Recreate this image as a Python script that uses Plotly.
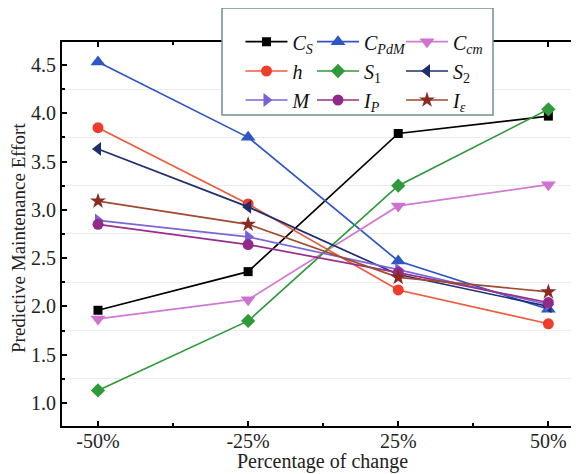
import plotly.graph_objects as go

categories = ["-50%", "-25%", "25%", "50%"]
C_S   = [1.96, 2.36, 3.79, 3.97]
C_PdM = [4.53, 3.75, 2.47, 1.97]
C_cm  = [1.87, 2.07, 3.04, 3.26]
h     = [3.85, 3.06, 2.17, 1.82]
S_1   = [1.13, 1.85, 3.25, 4.04]
S_2   = [3.63, 3.03, 2.33, 2.00]
M     = [2.89, 2.72, 2.38, 2.02]
I_P   = [2.85, 2.64, 2.35, 2.04]
I_eps = [3.09, 2.85, 2.30, 2.15]
y_ticks = [1.0, 1.5, 2.0, 2.5, 3.0, 3.5, 4.0, 4.5]
y_minor = [0.75, 1.25, 1.75, 2.25, 2.75, 3.25, 3.75, 4.25]

series = [
    ("<i>C</i><sub><i>S</i></sub>", C_S, "#000000", "#000000", "square", 9),
    ("<i>C</i><sub><i>PdM</i></sub>", C_PdM, "#2f56c4", "#2f56c4", "triangle-up", 13),
    ("<i>C</i><sub><i>cm</i></sub>", C_cm, "#d27ad2", "#d070d0", "triangle-down", 13),
    ("<i>h</i>", h, "#ee5a3c", "#f03c2c", "circle", 11),
    ("<i>S</i><sub>1</sub>", S_1, "#2f9a3a", "#2f9a3a", "diamond", 11),
    ("<i>S</i><sub>2</sub>", S_2, "#1e2e6e", "#1e2e6e", "triangle-left", 12),
    ("<i>M</i>", M, "#7a66d6", "#7a5fd8", "triangle-right", 12),
    ("<i>I</i><sub><i>P</i></sub>", I_P, "#9a2e8e", "#922a8a", "circle", 11),
    ("<i>I</i><sub><i>ε</i></sub>", I_eps, "#a04a30", "#8a2a22", "star", 12),
]

OFF = 8  # page body margin
W, H = 571, 466
L, R, T, B = 54, 0, 34, 48
pw, ph = W - L - R, H - T - B

def px2paper(sx, sy):
    # screen pixel -> paper coords
    x = sx - OFF
    y = sy - OFF
    return (x - L) / pw, (H - B - y) / ph

fig = go.Figure()
xs = list(range(len(categories)))
leg_cols = [240.5, 312, 401]
leg_rows = [41.7, 71, 100]
layout_legends = {}
for i, (name, vals, lc, mc, sym, sz) in enumerate(series):
    lname = "legend" if i == 0 else f"legend{i+1}"
    fig.add_trace(go.Scatter(
        x=xs, y=vals, mode="lines+markers", name=name,
        line=dict(color=lc, width=1.7),
        marker=dict(color=mc, symbol=sym, size=sz, line=dict(width=0)),
        legend=lname,
    ))
    r, c = divmod(i, 3)
    lx, ly = px2paper(leg_cols[c], leg_rows[r])
    layout_legends[lname] = dict(
        x=lx, y=ly, xanchor="left", yanchor="middle",
        bgcolor="rgba(0,0,0,0)", borderwidth=0, itemwidth=42,
        font=dict(family="Liberation Serif", size=20, color="#111"),
    )

fig.update_layout(
    width=W, height=H,
    margin=dict(l=L, r=R, t=T, b=B, autoexpand=False),
    paper_bgcolor="white", plot_bgcolor="white",
    font=dict(family="Liberation Serif", size=20, color="#222"),
    xaxis=dict(
        range=[-0.2397, 3.204], tickmode="array", tickvals=xs, ticktext=categories,
        showline=True, linecolor="black", linewidth=2, mirror="ticks",
        ticks="inside", ticklen=5, tickwidth=1.5, tickcolor="black",
        showgrid=False, zeroline=False, automargin=False, ticklabelstandoff=-4,
        minor=dict(tickmode="array", tickvals=[0.5, 1.5, 2.5], ticks="inside",
                   ticklen=3, tickwidth=1.5, tickcolor="black", showgrid=False),
        tickfont=dict(size=20),
    ),
    yaxis=dict(
        range=[0.762, 4.737], tickmode="array", tickvals=y_ticks,
        ticktext=[f"{v:.1f}" for v in y_ticks],
        showline=True, linecolor="black", linewidth=2, mirror=False,
        ticks="inside", ticklen=5, tickwidth=1.5, tickcolor="black",
        showgrid=False, zeroline=False, automargin=False,
        minor=dict(tickmode="array", tickvals=y_minor,
                   ticks="inside", ticklen=3, tickwidth=1.5, tickcolor="black",
                   showgrid=True, gridcolor="#ececec", gridwidth=1),
        tickfont=dict(size=20),
    ),
    showlegend=True,
    **layout_legends,
)

# axis titles as annotations
tx, ty = px2paper(18, 238)
fig.add_annotation(text="Predictive Maintenance Effort", xref="paper", yref="paper",
                   x=tx, y=ty, textangle=-90, showarrow=False,
                   xanchor="center", yanchor="middle",
                   font=dict(family="Liberation Serif", size=19, color="#222"))
tx, ty = px2paper(322, 461)
fig.add_annotation(text="Percentage of change", xref="paper", yref="paper",
                   x=tx, y=ty, showarrow=False, xanchor="center", yanchor="middle",
                   font=dict(family="Liberation Serif", size=20, color="#222"))

x0, y0 = px2paper(222, 115)
x1, y1 = px2paper(493, 8)
fig.add_shape(type="rect", xref="paper", yref="paper", x0=x0, y0=y0, x1=x1, y1=y1,
              line=dict(color="#6f9090", width=1.5), fillcolor="white", layer="above")

fig.write_html("out.html")
